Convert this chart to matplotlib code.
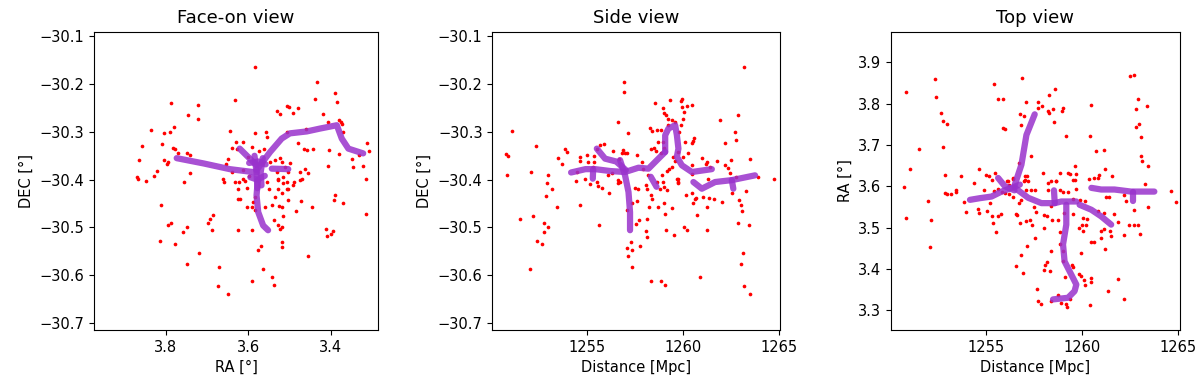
import matplotlib
matplotlib.use("Agg")
import matplotlib.pyplot as plt
import numpy as np

# ---- data: galaxies (red) ----
face_ra = [3.871, 3.867, 3.859, 3.865, 3.849, 3.836, 3.821, 3.829, 3.810, 3.806, 3.791, 3.789, 3.781, 3.804,
           3.798, 3.794, 3.784, 3.777, 3.770, 3.746, 3.722, 3.722, 3.748, 3.742, 3.742, 3.756, 3.661, 3.659,
           3.655, 3.650, 3.645,
           3.583, 3.432, 3.390, 3.385, 3.437, 3.632, 3.531, 3.523, 3.507, 3.501, 3.492, 3.479, 3.418, 3.406,
           3.380, 3.376, 3.373, 3.369, 3.585, 3.557, 3.554, 3.507, 3.460, 3.630, 3.612, 3.640, 3.628, 3.591,
           3.573, 3.561, 3.480, 3.464, 3.458, 3.442, 3.404, 3.379, 3.311, 3.306, 3.349, 3.345, 3.332, 3.322,
           3.407, 3.632, 3.622, 3.612, 3.608, 3.547, 3.535, 3.523, 3.519, 3.511, 3.499, 3.531, 3.515, 3.503,
           3.475, 3.462, 3.454, 3.470, 3.489, 3.507, 3.527, 3.555, 3.314,
           3.812, 3.796, 3.789, 3.815, 3.778, 3.759, 3.750, 3.720, 3.750, 3.697, 3.692, 3.687, 3.688, 3.672,
           3.673, 3.650,
           3.624, 3.624, 3.620, 3.604, 3.592, 3.588, 3.584, 3.584, 3.624, 3.591, 3.570, 3.576, 3.564, 3.592,
           3.542, 3.538, 3.559, 3.543, 3.535, 3.527, 3.527, 3.515, 3.507, 3.503, 3.537, 3.527, 3.523, 3.519,
           3.515, 3.517, 3.525, 3.517, 3.504, 3.519, 3.517, 3.484, 3.473, 3.446, 3.456, 3.491, 3.475, 3.412,
           3.394, 3.399, 3.408, 3.390, 3.392, 3.369, 3.315,
           3.600, 3.566, 3.598, 3.612, 3.551, 3.604, 3.640]
face_dec = [-30.394, -30.398, -30.330, -30.359, -30.402, -30.296, -30.382, -30.392, -30.326, -30.302, -30.301,
            -30.240, -30.290, -30.358, -30.368, -30.363, -30.334, -30.336, -30.344, -30.265, -30.243, -30.272,
            -30.345, -30.349, -30.386, -30.405, -30.399, -30.405, -30.368, -30.357, -30.299,
            -30.164, -30.195, -30.218, -30.237, -30.232, -30.233, -30.256, -30.263, -30.245, -30.248, -30.260,
            -30.249, -30.263, -30.280, -30.274, -30.279, -30.284, -30.300, -30.303, -30.301, -30.311, -30.300,
            -30.294, -30.321, -30.321, -30.334, -30.336, -30.331, -30.340, -30.335, -30.324, -30.335, -30.337,
            -30.335, -30.338, -30.347, -30.324, -30.340, -30.357, -30.373, -30.349, -30.371, -30.371, -30.405,
            -30.405, -30.398, -30.402, -30.363, -30.359, -30.355, -30.363, -30.373, -30.366, -30.384, -30.394,
            -30.384, -30.384, -30.377, -30.387, -30.399, -30.405, -30.405, -30.399, -30.405, -30.399,
            -30.454, -30.496, -30.490, -30.529, -30.535, -30.510, -30.500, -30.554, -30.576, -30.491, -30.483,
            -30.475, -30.505, -30.583, -30.623, -30.640,
            -30.419, -30.440, -30.440, -30.457, -30.457, -30.447, -30.436, -30.464, -30.505, -30.506, -30.538,
            -30.548, -30.588, -30.612, -30.603, -30.621, -30.457, -30.454, -30.436, -30.419, -30.401, -30.408,
            -30.419, -30.419, -30.485, -30.496, -30.503, -30.499, -30.476, -30.457, -30.456, -30.429, -30.443,
            -30.531, -30.542, -30.466, -30.445, -30.458, -30.560, -30.412, -30.400, -30.504, -30.508, -30.514,
            -30.519, -30.433, -30.442, -30.448, -30.473,
            -30.352, -30.366, -30.392, -30.379, -30.420, -30.418, -30.385]

side_dist = [1251.06, 1250.75, 1250.85, 1250.82, 1252.33, 1252.07, 1252.97, 1252.89, 1253.46, 1253.84, 1253.96,
             1253.67, 1254.45, 1254.62, 1254.62, 1254.41, 1254.97, 1255.05, 1255.33, 1255.36, 1255.28, 1255.63,
             1255.89, 1255.49, 1256.35, 1256.79, 1256.84, 1256.58, 1256.88, 1256.91, 1256.09, 1256.27, 1256.70,
             1254.88, 1255.49, 1256.62,
             1263.13, 1257.10, 1258.53, 1259.31, 1259.86, 1259.95, 1260.18, 1260.45, 1258.96, 1259.92, 1259.01,
             1259.08, 1259.22, 1259.40, 1260.05, 1260.00, 1259.57, 1259.90, 1258.28, 1258.35, 1258.61, 1258.82,
             1259.22, 1259.79, 1260.57, 1260.49, 1260.47, 1260.09, 1258.67, 1258.96, 1258.32, 1258.47, 1258.56,
             1258.84, 1259.01, 1257.57, 1257.83, 1257.92, 1256.96, 1257.05, 1259.74, 1260.00, 1260.23, 1259.48,
             1259.57, 1259.43, 1259.26, 1259.14, 1260.96, 1261.22, 1261.17, 1261.39, 1260.47, 1261.91, 1262.17,
             1261.74, 1262.47, 1262.69, 1262.74, 1262.86, 1263.47, 1262.17, 1262.34, 1262.43, 1258.18, 1258.88,
             1258.93, 1258.61, 1259.71, 1259.74, 1260.44, 1261.30, 1262.73, 1263.87, 1264.72, 1256.61,
             1252.85, 1253.15, 1253.44, 1251.49, 1252.16, 1252.73, 1252.95, 1252.74, 1252.38, 1252.66, 1252.02,
             1254.60, 1255.61, 1255.13, 1255.56, 1255.78, 1256.15, 1256.61,
             1257.48, 1257.66, 1258.06, 1258.09, 1258.79, 1258.99, 1259.14, 1258.30, 1258.35, 1258.23, 1257.57,
             1257.31, 1257.05, 1257.69, 1257.52, 1258.09, 1258.70, 1259.01, 1259.05, 1259.40, 1258.04, 1258.11,
             1257.74, 1257.28, 1257.08, 1257.31, 1257.14, 1257.34, 1258.32, 1258.84, 1259.03, 1259.10, 1259.52,
             1260.04, 1260.21, 1259.69, 1259.71, 1260.12, 1260.47, 1260.66, 1260.61, 1260.49, 1261.04, 1261.35,
             1261.60, 1261.25, 1260.73, 1261.22, 1260.87, 1262.02, 1262.52, 1262.90, 1263.00, 1263.07, 1263.27,
             1262.86, 1263.39, 1263.11, 1262.99, 1263.13, 1263.49]
side_dec = [-30.299, -30.347, -30.351, -30.391, -30.329, -30.384, -30.391, -30.408, -30.354, -30.335, -30.342,
            -30.368, -30.385, -30.352, -30.361, -30.403, -30.349, -30.363, -30.350, -30.363, -30.373, -30.328,
            -30.326, -30.335, -30.340, -30.344, -30.337, -30.280, -30.195, -30.217, -30.391, -30.387, -30.405,
            -30.399, -30.405, -30.356,
            -30.164, -30.302, -30.239, -30.233, -30.236, -30.231, -30.245, -30.243, -30.249, -30.248, -30.261,
            -30.264, -30.272, -30.276, -30.259, -30.273, -30.280, -30.286, -30.292, -30.299, -30.296, -30.296,
            -30.286, -30.300, -30.313, -30.319, -30.324, -30.322, -30.321, -30.321, -30.335, -30.334, -30.340,
            -30.345, -30.334, -30.349, -30.363, -30.377, -30.345, -30.344, -30.343, -30.352, -30.344, -30.352,
            -30.361, -30.373, -30.377, -30.382, -30.354, -30.364, -30.368, -30.373, -30.370, -30.275, -30.324,
            -30.361, -30.359, -30.300, -30.316, -30.265, -30.356, -30.370, -30.375, -30.387, -30.391, -30.391,
            -30.405, -30.405, -30.399, -30.405, -30.389, -30.398, -30.394, -30.394, -30.399, -30.401,
            -30.434, -30.420, -30.458, -30.483, -30.477, -30.491, -30.500, -30.510, -30.529, -30.535, -30.588,
            -30.454, -30.496, -30.410, -30.413, -30.417, -30.427, -30.406,
            -30.417, -30.419, -30.412, -30.420, -30.420, -30.415, -30.422, -30.433, -30.441, -30.457, -30.445,
            -30.448, -30.464, -30.484, -30.492, -30.482, -30.457, -30.448, -30.473, -30.459, -30.508, -30.520,
            -30.538, -30.531, -30.543, -30.548, -30.560, -30.583, -30.612, -30.612, -30.621, -30.505, -30.515,
            -30.500, -30.506, -30.399, -30.408, -30.433, -30.429, -30.438, -30.441, -30.448, -30.436, -30.438,
            -30.440, -30.458, -30.475, -30.505, -30.603, -30.446, -30.429, -30.443, -30.454, -30.466, -30.424,
            -30.490, -30.496, -30.554, -30.576, -30.623, -30.640]

top_dist = [1250.86, 1251.08, 1251.55, 1252.36, 1252.41, 1252.69, 1252.77, 1252.98, 1252.77, 1252.89, 1253.71,
            1254.65, 1254.41, 1255.02, 1255.43, 1255.62, 1255.88, 1255.91, 1256.00, 1255.48, 1256.17, 1256.43,
            1256.71, 1256.78, 1256.83, 1256.90, 1256.97,
            1257.12, 1257.72, 1257.72, 1257.93, 1258.29, 1258.62, 1258.24, 1258.28, 1258.50, 1258.54, 1259.02,
            1258.99, 1259.19, 1260.45, 1260.43, 1260.71, 1261.17, 1259.62, 1258.85, 1259.28, 1259.40, 1259.71,
            1261.21, 1260.88, 1260.83, 1260.61, 1260.35, 1261.55, 1259.53, 1258.64, 1257.34, 1257.17, 1257.03,
            1257.97, 1262.48, 1262.73, 1262.90, 1262.83, 1263.36, 1262.82, 1262.95, 1263.07, 1263.07, 1263.11,
            1263.45, 1263.30,
            1250.79, 1250.87, 1252.03, 1252.17, 1252.12, 1252.89, 1252.98, 1253.19, 1253.46, 1253.46, 1253.86,
            1253.98, 1254.59, 1254.65, 1254.91, 1255.05, 1255.17, 1255.34, 1255.22, 1255.34, 1255.41, 1255.55,
            1255.43, 1255.62, 1255.83, 1255.62, 1255.79, 1256.09, 1256.21, 1256.40, 1256.00, 1256.21, 1256.40,
            1256.60, 1256.81, 1256.86, 1256.60, 1256.95, 1256.72, 1256.99, 1256.86,
            1257.03, 1257.21, 1257.12, 1257.38, 1258.24, 1258.42, 1258.68, 1257.55, 1258.24, 1258.85, 1259.02,
            1259.28, 1259.62, 1259.71, 1259.88, 1260.14, 1261.26, 1261.43, 1262.21, 1262.30, 1263.42, 1264.63,
            1264.89, 1262.73, 1262.47, 1262.68, 1262.93, 1263.04, 1262.17, 1261.86, 1261.69, 1261.14, 1260.83,
            1260.05, 1260.28, 1260.02, 1260.19, 1259.85, 1260.05, 1259.53, 1261.01, 1261.17, 1261.48, 1260.97,
            1261.52, 1260.45, 1260.62, 1261.21, 1259.93, 1261.86, 1261.35, 1262.16, 1260.43, 1260.10, 1260.45,
            1260.48, 1260.17, 1259.85, 1259.93, 1259.48, 1259.53, 1259.02, 1259.10, 1259.36, 1258.93, 1259.19,
            1259.24, 1258.38, 1258.76, 1257.72, 1257.90, 1257.67, 1258.33, 1258.04, 1258.11, 1258.21, 1259.02,
            1258.38, 1258.85, 1258.85, 1258.04, 1257.59, 1257.17, 1257.50, 1257.64, 1257.29, 1257.12, 1256.62,
            1258.04, 1258.21, 1258.45, 1258.76, 1257.41, 1258.42, 1259.53, 1259.05]
top_ra = [3.829, 3.642, 3.691, 3.859, 3.815, 3.778, 3.759, 3.750, 3.696, 3.626, 3.625, 3.642, 3.608, 3.627,
          3.848, 3.810, 3.810, 3.741, 3.739, 3.632, 3.612, 3.620, 3.656, 3.775, 3.749, 3.863, 3.771,
          3.805, 3.803, 3.790, 3.793, 3.821, 3.836, 3.782, 3.777, 3.787, 3.756, 3.790, 3.782, 3.722, 3.797,
          3.722, 3.686, 3.687, 3.650, 3.633, 3.632, 3.630, 3.629, 3.641, 3.628, 3.621, 3.620, 3.618, 3.625,
          3.615, 3.613, 3.672, 3.625, 3.614, 3.632, 3.867, 3.869, 3.811, 3.787, 3.794, 3.744, 3.750, 3.720,
          3.673, 3.660, 3.650, 3.605,
          3.598, 3.523, 3.565, 3.517, 3.453, 3.584, 3.581, 3.581, 3.592, 3.586, 3.562, 3.538, 3.545, 3.534,
          3.592, 3.541, 3.625, 3.614, 3.559, 3.529, 3.511, 3.489, 3.589, 3.594, 3.587, 3.529, 3.533, 3.612,
          3.604, 3.618, 3.584, 3.580, 3.575, 3.533, 3.511, 3.433, 3.408, 3.390, 3.559, 3.612, 3.567,
          3.624, 3.612, 3.592, 3.592, 3.608, 3.612, 3.613, 3.592, 3.592, 3.592, 3.587, 3.586, 3.616, 3.594,
          3.567, 3.563, 3.575, 3.575, 3.579, 3.563, 3.550, 3.589, 3.561, 3.543, 3.507, 3.507, 3.505, 3.485,
          3.482, 3.513, 3.533, 3.535, 3.541, 3.523, 3.521, 3.507, 3.505, 3.499, 3.492, 3.533, 3.491, 3.497,
          3.491, 3.475, 3.479, 3.465, 3.464, 3.447, 3.439, 3.376, 3.346, 3.326, 3.312, 3.374, 3.377, 3.369,
          3.360, 3.388, 3.382, 3.410, 3.404, 3.420, 3.380, 3.326, 3.318, 3.314, 3.307, 3.322, 3.336, 3.323,
          3.315, 3.350, 3.394, 3.396, 3.409, 3.417, 3.444, 3.443, 3.488, 3.459, 3.500, 3.475, 3.456, 3.549,
          3.537, 3.519, 3.515, 3.531, 3.531, 3.529, 3.517, 3.517, 3.505, 3.551, 3.569, 3.534]

# ---- data: filament spines (purple) ----
face_fil_ra = [
    [3.774, 3.709, 3.645, 3.580],
    [3.580, 3.547, 3.519, 3.499, 3.458, 3.426, 3.385, 3.373, 3.357, 3.321],
    [3.621, 3.580],
    [3.543, 3.503],
    [3.577, 3.580, 3.576, 3.564, 3.552],
    [3.598, 3.575, 3.558],
    [3.595, 3.578, 3.560],
    [3.585, 3.580, 3.578],
    [3.565, 3.570, 3.568],
]
face_fil_dec = [
    [-30.355, -30.366, -30.378, -30.385],
    [-30.380, -30.342, -30.314, -30.303, -30.299, -30.293, -30.286, -30.314, -30.335, -30.345],
    [-30.335, -30.370],
    [-30.377, -30.378],
    [-30.401, -30.433, -30.468, -30.496, -30.506],
    [-30.365, -30.362, -30.368],
    [-30.395, -30.400, -30.392],
    [-30.350, -30.385, -30.418],
    [-30.355, -30.385, -30.412],
]

side_fil_dist = [
    [1254.15, 1254.9, 1255.4, 1256.2, 1256.96, 1257.66, 1258.18, 1258.70, 1259.05],
    [1255.49, 1255.92, 1256.5, 1257.0],
    [1255.3, 1255.28],
    [1259.05, 1259.05, 1259.22, 1259.57, 1259.66, 1259.74, 1259.66, 1259.92, 1260.44, 1261.48],
    [1256.7, 1256.96, 1257.14, 1257.22, 1257.22],
    [1258.3, 1258.6],
    [1260.52, 1260.96, 1261.65, 1262.52, 1263.73],
    [1262.52, 1262.6],
]
side_fil_dec = [
    [-30.385, -30.378, -30.378, -30.382, -30.384, -30.375, -30.377, -30.356, -30.342],
    [-30.335, -30.356, -30.362, -30.380],
    [-30.378, -30.398],
    [-30.342, -30.307, -30.293, -30.286, -30.307, -30.335, -30.352, -30.370, -30.384, -30.378],
    [-30.359, -30.391, -30.426, -30.468, -30.506],
    [-30.394, -30.415],
    [-30.405, -30.419, -30.405, -30.401, -30.391],
    [-30.401, -30.419],
]

top_fil_dist = [
    [1254.19, 1254.70, 1255.31, 1255.83, 1256.35, 1256.78],
    [1257.55, 1257.12, 1256.86, 1256.52],
    [1256.52, 1257.21, 1257.90, 1258.59, 1258.93, 1259.71],
    [1258.59, 1258.55],
    [1259.19, 1259.19, 1259.02, 1259.10, 1259.45, 1259.71, 1259.62, 1259.28, 1258.50],
    [1259.88, 1260.49, 1261.0, 1261.52],
    [1260.49, 1261.0, 1261.69, 1262.55, 1263.76],
    [1262.64, 1262.64],
    [1255.65, 1256.0, 1256.5],
]
top_fil_ra = [
    [3.567, 3.571, 3.575, 3.587, 3.596, 3.604],
    [3.774, 3.724, 3.652, 3.604],
    [3.596, 3.572, 3.559, 3.559, 3.563, 3.563],
    [3.559, 3.590],
    [3.555, 3.507, 3.459, 3.418, 3.386, 3.362, 3.346, 3.330, 3.326],
    [3.555, 3.543, 3.527, 3.507],
    [3.596, 3.592, 3.592, 3.587, 3.587],
    [3.587, 3.563],
    [3.620, 3.600, 3.590],
]

red = "red"
purple = "darkorchid"

fig = plt.figure(figsize=(12, 3.85), dpi=100)
ax1 = fig.add_axes([0.0783, 0.1429, 0.2367, 0.7748])
ax2 = fig.add_axes([0.4103, 0.1429, 0.2397, 0.7748])
ax3 = fig.add_axes([0.7425, 0.1429, 0.2408, 0.7748])

panels = [
    (ax1, face_ra, face_dec, face_fil_ra, face_fil_dec, "Face-on view", "RA [°]", "DEC [°]"),
    (ax2, side_dist, side_dec, side_fil_dist, side_fil_dec, "Side view", "Distance [Mpc]", "DEC [°]"),
    (ax3, top_dist, top_ra, top_fil_dist, top_fil_ra, "Top view", "Distance [Mpc]", "RA [°]"),
]

for ax, gx, gy, fx, fy, title, xl, yl in panels:
    ax.scatter(gx, gy, s=7, color=red, zorder=2, linewidths=0)
    for xs, ys in zip(fx, fy):
        ax.plot(xs, ys, color=purple, lw=4.5, alpha=0.85, solid_capstyle="round",
                solid_joinstyle="round", zorder=3)
    ax.set_title(title, fontsize=13)
    ax.set_xlabel(xl, fontsize=10.5)
    ax.set_ylabel(yl, fontsize=10.5)
    ax.tick_params(labelsize=10.5)

ax1.set_xlim(3.975, 3.285)
ax1.set_ylim(-30.715, -30.090)
ax1.set_xticks([3.8, 3.6, 3.4])
ax2.set_xlim(1250.05, 1265.03)
ax2.set_ylim(-30.715, -30.090)
ax3.set_xlim(1250.09, 1265.09)
ax3.set_ylim(3.252, 3.974)
for ax in (ax2, ax3):
    ax.set_xticks([1255, 1260, 1265])

fig.savefig("out.png", dpi=100)
